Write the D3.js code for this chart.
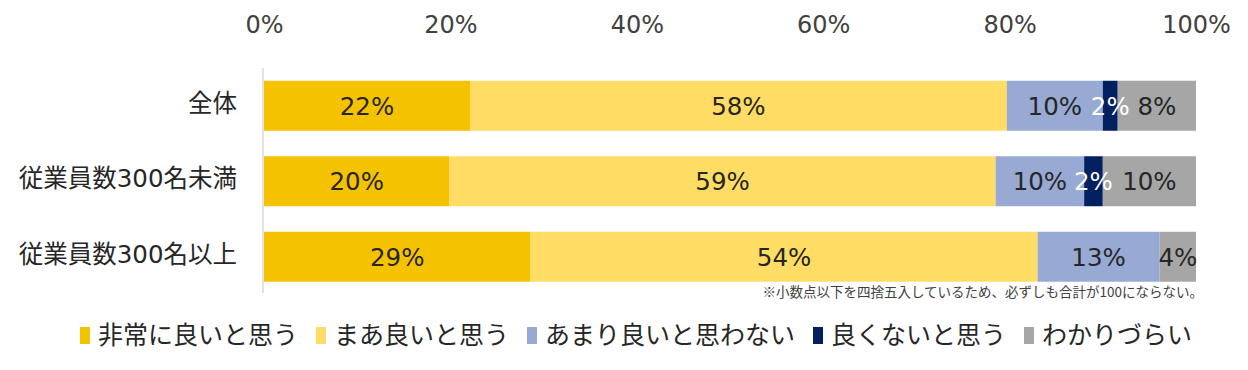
<!DOCTYPE html>
<html lang="ja">
<head>
  <meta charset="UTF-8">
  <title>評価の割合</title>
  <script src="https://d3js.org/d3.v7.min.js"></script>
  <style>
    body { margin: 0; background: #fff; }
    svg { display: block; }
    text { font-family: "DejaVu Sans", "Noto Sans CJK JP", sans-serif; }
  </style>
</head>
<body>
<svg id="chart" width="1248" height="370"></svg>
<script>
// データ（%）
const categories = ["全体", "従業員数300名未満", "従業員数300名以上"];
const seriesNames = ["非常に良いと思う", "まあ良いと思う", "あまり良いと思わない", "良くないと思う", "わかりづらい"];
const verGood  = [22.1, 19.9, 28.6];
const fairGood = [57.6, 58.6, 54.4];
const notGood  = [10.3, 9.5, 13.1];
const bad      = [1.6, 2.0, 0];
const unclear  = [8.4, 10.0, 3.9];
const tickValues = [0, 20, 40, 60, 80, 100];
const note = "※小数点以下を四捨五入しているため、必ずしも合計が100にならない。";

const colors = ["#F5C200", "#FFDC64", "#98A9D4", "#002060", "#A6A6A6"];
const labelColors = ["#262626", "#262626", "#262626", "#ffffff", "#262626"];

const series = [verGood, fairGood, notGood, bad, unclear];
const rows = categories.map((c, i) => {
  const r = { cat: c };
  seriesNames.forEach((s, j) => r[s] = series[j][i]);
  return r;
});

const svg = d3.select("#chart");

const x = d3.scaleLinear().domain([0, 100]).range([264, 1196]);
const y = d3.scaleBand().domain(categories).range([68, 294.5])
  .paddingInner(0.338).paddingOuter(0.169);

// 上部目盛りラベル
const xAxis = d3.axisTop(x).tickValues(tickValues).tickFormat(d => d + "%").tickSize(0).tickPadding(0);
const ax = svg.append("g").attr("transform", "translate(0,33)").call(xAxis);
ax.select(".domain").remove();
ax.selectAll("text")
  .attr("font-size", "24px")
  .attr("fill", "#404040")
  .attr("dy", 0)
  .style("font-family", "'DejaVu Sans', 'Noto Sans CJK JP', sans-serif");

// 縦軸線
svg.append("line")
  .attr("x1", x(0) - 1).attr("x2", x(0) - 1)
  .attr("y1", 68).attr("y2", 293)
  .attr("stroke", "#d9d9d9").attr("stroke-width", 1.5);

const stack = d3.stack().keys(seriesNames)(rows);

const layers = svg.append("g").selectAll("g")
  .data(stack).join("g")
  .attr("fill", (d, i) => colors[i]);

layers.selectAll("rect")
  .data(d => d).join("rect")
  .attr("x", d => x(d[0]))
  .attr("width", d => x(d[1]) - x(d[0]))
  .attr("y", d => y(d.data.cat))
  .attr("height", y.bandwidth());

// 値ラベル
stack.forEach((layer, i) => {
  svg.append("g").selectAll("text")
    .data(layer.filter(d => d[1] - d[0] > 0)).join("text")
    .attr("x", d => (x(d[0]) + x(d[1])) / 2)
    .attr("y", d => y(d.data.cat) + y.bandwidth() / 2)
    .attr("dy", "0.36em")
    .attr("text-anchor", "middle")
    .attr("font-size", "24.5px")
    .attr("fill", labelColors[i])
    .text(d => Math.round(d.data[seriesNames[i]]) + "%");
});

// カテゴリラベル
svg.append("g").selectAll("text")
  .data(categories).join("text")
  .attr("x", 237)
  .attr("y", d => y(d) + y.bandwidth() / 2 - 3)
  .attr("dy", "0.36em")
  .attr("text-anchor", "end")
  .attr("font-size", "24.5px")
  .attr("fill", "#262626")
  .text(d => d);

// 注記
svg.append("text")
  .attr("x", 1203).attr("y", 297)
  .attr("text-anchor", "end")
  .attr("font-size", "13.5px")
  .attr("fill", "#404040")
  .style("font-family", "'Noto Sans CJK JP', sans-serif")
  .text(note);

// 凡例
const legend = svg.append("g");
let lx = 0;
seriesNames.forEach((s, i) => {
  const item = legend.append("g").attr("transform", `translate(${lx},0)`);
  item.append("rect")
    .attr("x", 0).attr("y", 327)
    .attr("width", 10).attr("height", 17)
    .attr("fill", colors[i]);
  const t = item.append("text")
    .attr("x", 18).attr("y", 344)
    .attr("font-size", "25px")
    .attr("fill", "#262626")
    .style("font-family", "'Noto Sans CJK JP', sans-serif")
    .text(s);
  lx += 18 + t.node().getComputedTextLength() + 18;
});
const totalW = lx - 18;
legend.attr("transform", `translate(${636 - totalW / 2},0)`);
</script>
</body>
</html>
